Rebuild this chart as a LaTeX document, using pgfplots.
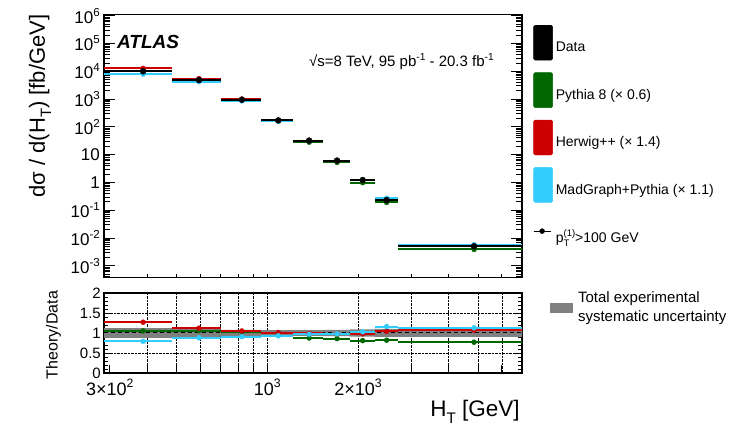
\documentclass[border=0pt]{standalone}
\usepackage{fontspec}
\setmainfont{Liberation Sans}
\usepackage{pgfplots}
\usepackage{pgfplotstable}
\pgfplotsset{compat=1.18}
\definecolor{rootred}{RGB}{204,0,0}
\definecolor{rootgreen}{RGB}{0,102,0}
\definecolor{rootblue}{RGB}{51,204,255}
\newcommand\sups[1]{\raisebox{0.42em}{\scalebox{0.68}{#1}}}
\newcommand\subs[1]{\raisebox{-0.28em}{\scalebox{0.68}{#1}}}
\newcommand\subsup[2]{\makebox[0pt][l]{\subs{#1}}\sups{#2}}

% x = bin centre, em/ep = distance to lower/upper bin edge
\pgfplotstableread{
x     em     ep     data    py       hw       mg       rpy   rhw   rmg
387   100    96.5   10000   10500    12700    7900     1.05  1.27  0.79
593   109.5  107    4830    5120     5410     4250     1.06  1.12  0.88
823   123    127    946     974      993      861      1.03  1.05  0.91
1087  137    128    170     168      172      158      0.99  1.01  0.93
1376  161    154    32      28.0     31.7     31.0     0.875 0.99  0.97
1703  173    177    6.1     5.25     5.98     5.98     0.86  0.98  0.98
2071  191    199    1.21    0.98     1.19     1.25     0.81  0.98  1.03
2488  218    222    0.23    0.189    0.239    0.267    0.82  1.04  1.16
4852  2142   2148   0.0050  0.00385  0.00535  0.00565  0.77  1.07  1.13
}\bins

\begin{document}
\begin{tikzpicture}
\path[use as bounding box] (0,0) rectangle (747pt,430pt);
% ---------------- top panel: short x ticks only ----------------
\begin{axis}[
  at={(104pt,152.3pt)}, anchor=south west,
  scale only axis, width=418pt, height=263pt,
  xmode=log, ymode=log,
  xmin=287, xmax=7000, ymin=3.7e-4, ymax=1.09e6,
  axis line style={line width=1.3pt},
  every tick/.style={black, line width=0.8pt},
  major tick length=3.5pt,
  xtick={400,500,600,700,800,900,1000,2000,3000,4000,5000,6000},
  xticklabels={,,,,,,,,,,,}, xtick pos=left,
  ytick=\empty,
]
\end{axis}
% ---------------- top panel ----------------
\begin{axis}[
  at={(104pt,152.3pt)}, anchor=south west,
  scale only axis, width=418pt, height=263pt,
  xmode=log, ymode=log,
  xmin=287, xmax=7000, ymin=3.7e-4, ymax=1.09e6,
  axis line style={line width=1.3pt},
  every tick/.style={black, line width=0.8pt},
  major tick length=11pt, minor tick length=6pt,
  xtick=\empty,
  ytick={0.001,0.01,0.1,1,10,100,1000,10000,100000,1000000},
  yticklabels={10\sups{-3},10\sups{-2},10\sups{-1},1,10,10\sups{2},10\sups{3},10\sups{4},10\sups{5},10\sups{6}},
  minor ytick={4e-4,5e-4,6e-4,7e-4,8e-4,9e-4,
    2e-3,3e-3,4e-3,5e-3,6e-3,7e-3,8e-3,9e-3,
    0.02,0.03,0.04,0.05,0.06,0.07,0.08,0.09,
    0.2,0.3,0.4,0.5,0.6,0.7,0.8,0.9,
    2,3,4,5,6,7,8,9,
    20,30,40,50,60,70,80,90,
    200,300,400,500,600,700,800,900,
    2000,3000,4000,5000,6000,7000,8000,9000,
    20000,30000,40000,50000,60000,70000,80000,90000,
    200000,300000,400000,500000,600000,700000,800000,900000},
  yticklabel style={font=\fontsize{17}{17}\selectfont, inner sep=0pt, xshift=-4pt},
  ylabel={dσ / d(H\subs{T}) [fb/GeV]},
  ylabel style={at={(axis description cs:-0.1531,0.6529)}, anchor=center,
    font=\fontsize{22}{22}\selectfont, inner sep=0pt},
  legend cell align=left,
  legend style={at={(1.0263,0.9608)}, anchor=north west, draw=none, fill=none,
    inner sep=0pt, outer sep=0pt, row sep=12pt, column sep=3pt,
    nodes={inner sep=0pt}, font=\fontsize{14}{16}\selectfont},
]
\addplot[forget plot, only marks, mark=*, mark size=2.5pt, color=rootgreen,
  error bars/.cd, x dir=both, x explicit, error mark=none,
  error bar style={line width=2pt, rootgreen}]
  table[x=x, y=py, x error minus=em, x error plus=ep] {\bins};
\addplot[forget plot, only marks, mark=*, mark size=2.5pt, color=rootred,
  error bars/.cd, x dir=both, x explicit, error mark=none,
  error bar style={line width=2pt, rootred}]
  table[x=x, y=hw, x error minus=em, x error plus=ep] {\bins};
\addplot[forget plot, only marks, mark=*, mark size=2.5pt, color=rootblue,
  error bars/.cd, x dir=both, x explicit, error mark=none,
  error bar style={line width=2pt, rootblue}]
  table[x=x, y=mg, x error minus=em, x error plus=ep] {\bins};
\addplot[forget plot, only marks, mark=*, mark size=3pt, color=black,
  error bars/.cd, x dir=both, x explicit, error mark=none,
  error bar style={line width=2pt, black}]
  table[x=x, y=data, x error minus=em, x error plus=ep] {\bins};

\node[anchor=base west, inner sep=0pt, font=\bfseries\itshape\fontsize{19}{19}\selectfont]
  at (axis description cs:0.031,0.870) {ATLAS};
\node[anchor=base west, inner sep=0pt, font=\fontsize{15}{15}\selectfont]
  at (axis description cs:0.490,0.8020) {√s=8 TeV, 95 pb\sups{-1} - 20.3 fb\sups{-1}};

\addlegendimage{legend image code/.code={\fill[black, rounded corners=1.5pt] (0pt,-12.5pt) rectangle (19pt,22.5pt);}}
\addlegendentry{Data}
\addlegendimage{legend image code/.code={\fill[rootgreen, rounded corners=1.5pt] (0pt,-12.5pt) rectangle (19pt,22.5pt);}}
\addlegendentry{Pythia 8 (× 0.6)}
\addlegendimage{legend image code/.code={\fill[rootred, rounded corners=1.5pt] (0pt,-12.5pt) rectangle (19pt,22.5pt);}}
\addlegendentry{Herwig++ (× 1.4)}
\addlegendimage{legend image code/.code={\fill[rootblue, rounded corners=1.5pt] (0pt,-12.5pt) rectangle (19pt,22.5pt);}}
\addlegendentry{MadGraph+Pythia (× 1.1)}
\addlegendimage{legend image code/.code={\path[draw=none, fill=none] (0pt,-12.5pt) rectangle (19pt,22.5pt);
  \draw[black, line width=1.2pt] (0pt,6pt) -- (17pt,6pt); \fill[black] (8.5pt,6pt) circle (2.5pt);}}
\addlegendentry{p\subsup{T}{(1)}>100 GeV}
\end{axis}

% ---------------- ratio panel ----------------
\begin{axis}[
  at={(104pt,57pt)}, anchor=south west,
  scale only axis, width=418pt, height=80pt,
  xmode=log, xmin=287, xmax=7000, ymin=0, ymax=2,
  axis line style={line width=1.3pt},
  every tick/.style={black, line width=0.8pt},
  major tick length=8pt, minor tick length=4pt,
  xtick={400,500,600,700,800,900,1000,2000,3000,4000,5000,6000},
  xticklabels={,,,,,,10\sups{3},2×10\sups{3},,,,},
  extra x ticks={300}, extra x tick labels={3×10\sups{2}},
  extra x tick style={grid=none},
  xtick pos=left,
  xticklabel style={font=\fontsize{18}{18}\selectfont, inner sep=0pt, yshift=-6pt},
  ytick={0,0.5,1,1.5,2}, yticklabels={0,0.5,1,1.5,2},
  minor y tick num=4,
  yticklabel style={font=\fontsize{15}{15}\selectfont, inner sep=0pt, xshift=-3pt},
  xmajorgrids, ymajorgrids,
  major grid style={densely dotted, black, line width=0.7pt},
  ylabel={Theory/Data},
  ylabel style={at={(axis description cs:-0.1208,0.475)}, anchor=center,
    font=\fontsize{16}{16}\selectfont, inner sep=0pt},
  xlabel={H\subs{T} [GeV]},
  xlabel style={at={(axis description cs:0.995,-0.55)}, anchor=base east,
    font=\fontsize{22.5}{22.5}\selectfont, inner sep=0pt},
  legend cell align=left,
  legend style={at={(1.067,0.90)}, anchor=west, draw=none, fill=none,
    inner sep=0pt, outer sep=0pt, column sep=5pt,
    nodes={inner sep=0pt}, font=\fontsize{15}{19}\selectfont},
]
\addplot[fill=gray, draw=none,
  legend image code/.code={\fill[gray] (0pt,-11.6pt) rectangle (23pt,-1.6pt);}]
  coordinates {
  (287,1.12) (483.5,1.12) (483.5,1.10) (700,1.10) (700,1.08) (950,1.08)
  (950,1.07) (1215,1.07) (1530,1.07) (1530,1.08) (1880,1.08) (1880,1.09)
  (2270,1.09) (2270,1.10) (7000,1.10)
  (7000,0.90) (2270,0.90) (2270,0.91) (1880,0.91) (1880,0.92) (1530,0.92)
  (1530,0.93) (950,0.93) (950,0.92) (700,0.92) (700,0.90) (483.5,0.90)
  (483.5,0.88) (287,0.88)} -- cycle;
\addlegendentry{\begin{tabular}{@{}l@{}}Total experimental\\systematic uncertainty\end{tabular}}
\addplot[forget plot, black, line width=1pt, dash pattern=on 4pt off 3pt] coordinates {(287,1) (7000,1)};
\addplot[forget plot, only marks, mark=*, mark size=2.5pt, color=rootgreen,
  error bars/.cd, x dir=both, x explicit, error mark=none,
  error bar style={line width=2pt, rootgreen}]
  table[x=x, y=rpy, x error minus=em, x error plus=ep] {\bins};
\addplot[forget plot, only marks, mark=*, mark size=2.5pt, color=rootred,
  error bars/.cd, x dir=both, x explicit, error mark=none,
  error bar style={line width=2pt, rootred}]
  table[x=x, y=rhw, x error minus=em, x error plus=ep] {\bins};
\addplot[forget plot, only marks, mark=*, mark size=2.5pt, color=rootblue,
  error bars/.cd, x dir=both, x explicit, error mark=none,
  error bar style={line width=2pt, rootblue}]
  table[x=x, y=rmg, x error minus=em, x error plus=ep] {\bins};
\end{axis}
\end{tikzpicture}
\end{document}
